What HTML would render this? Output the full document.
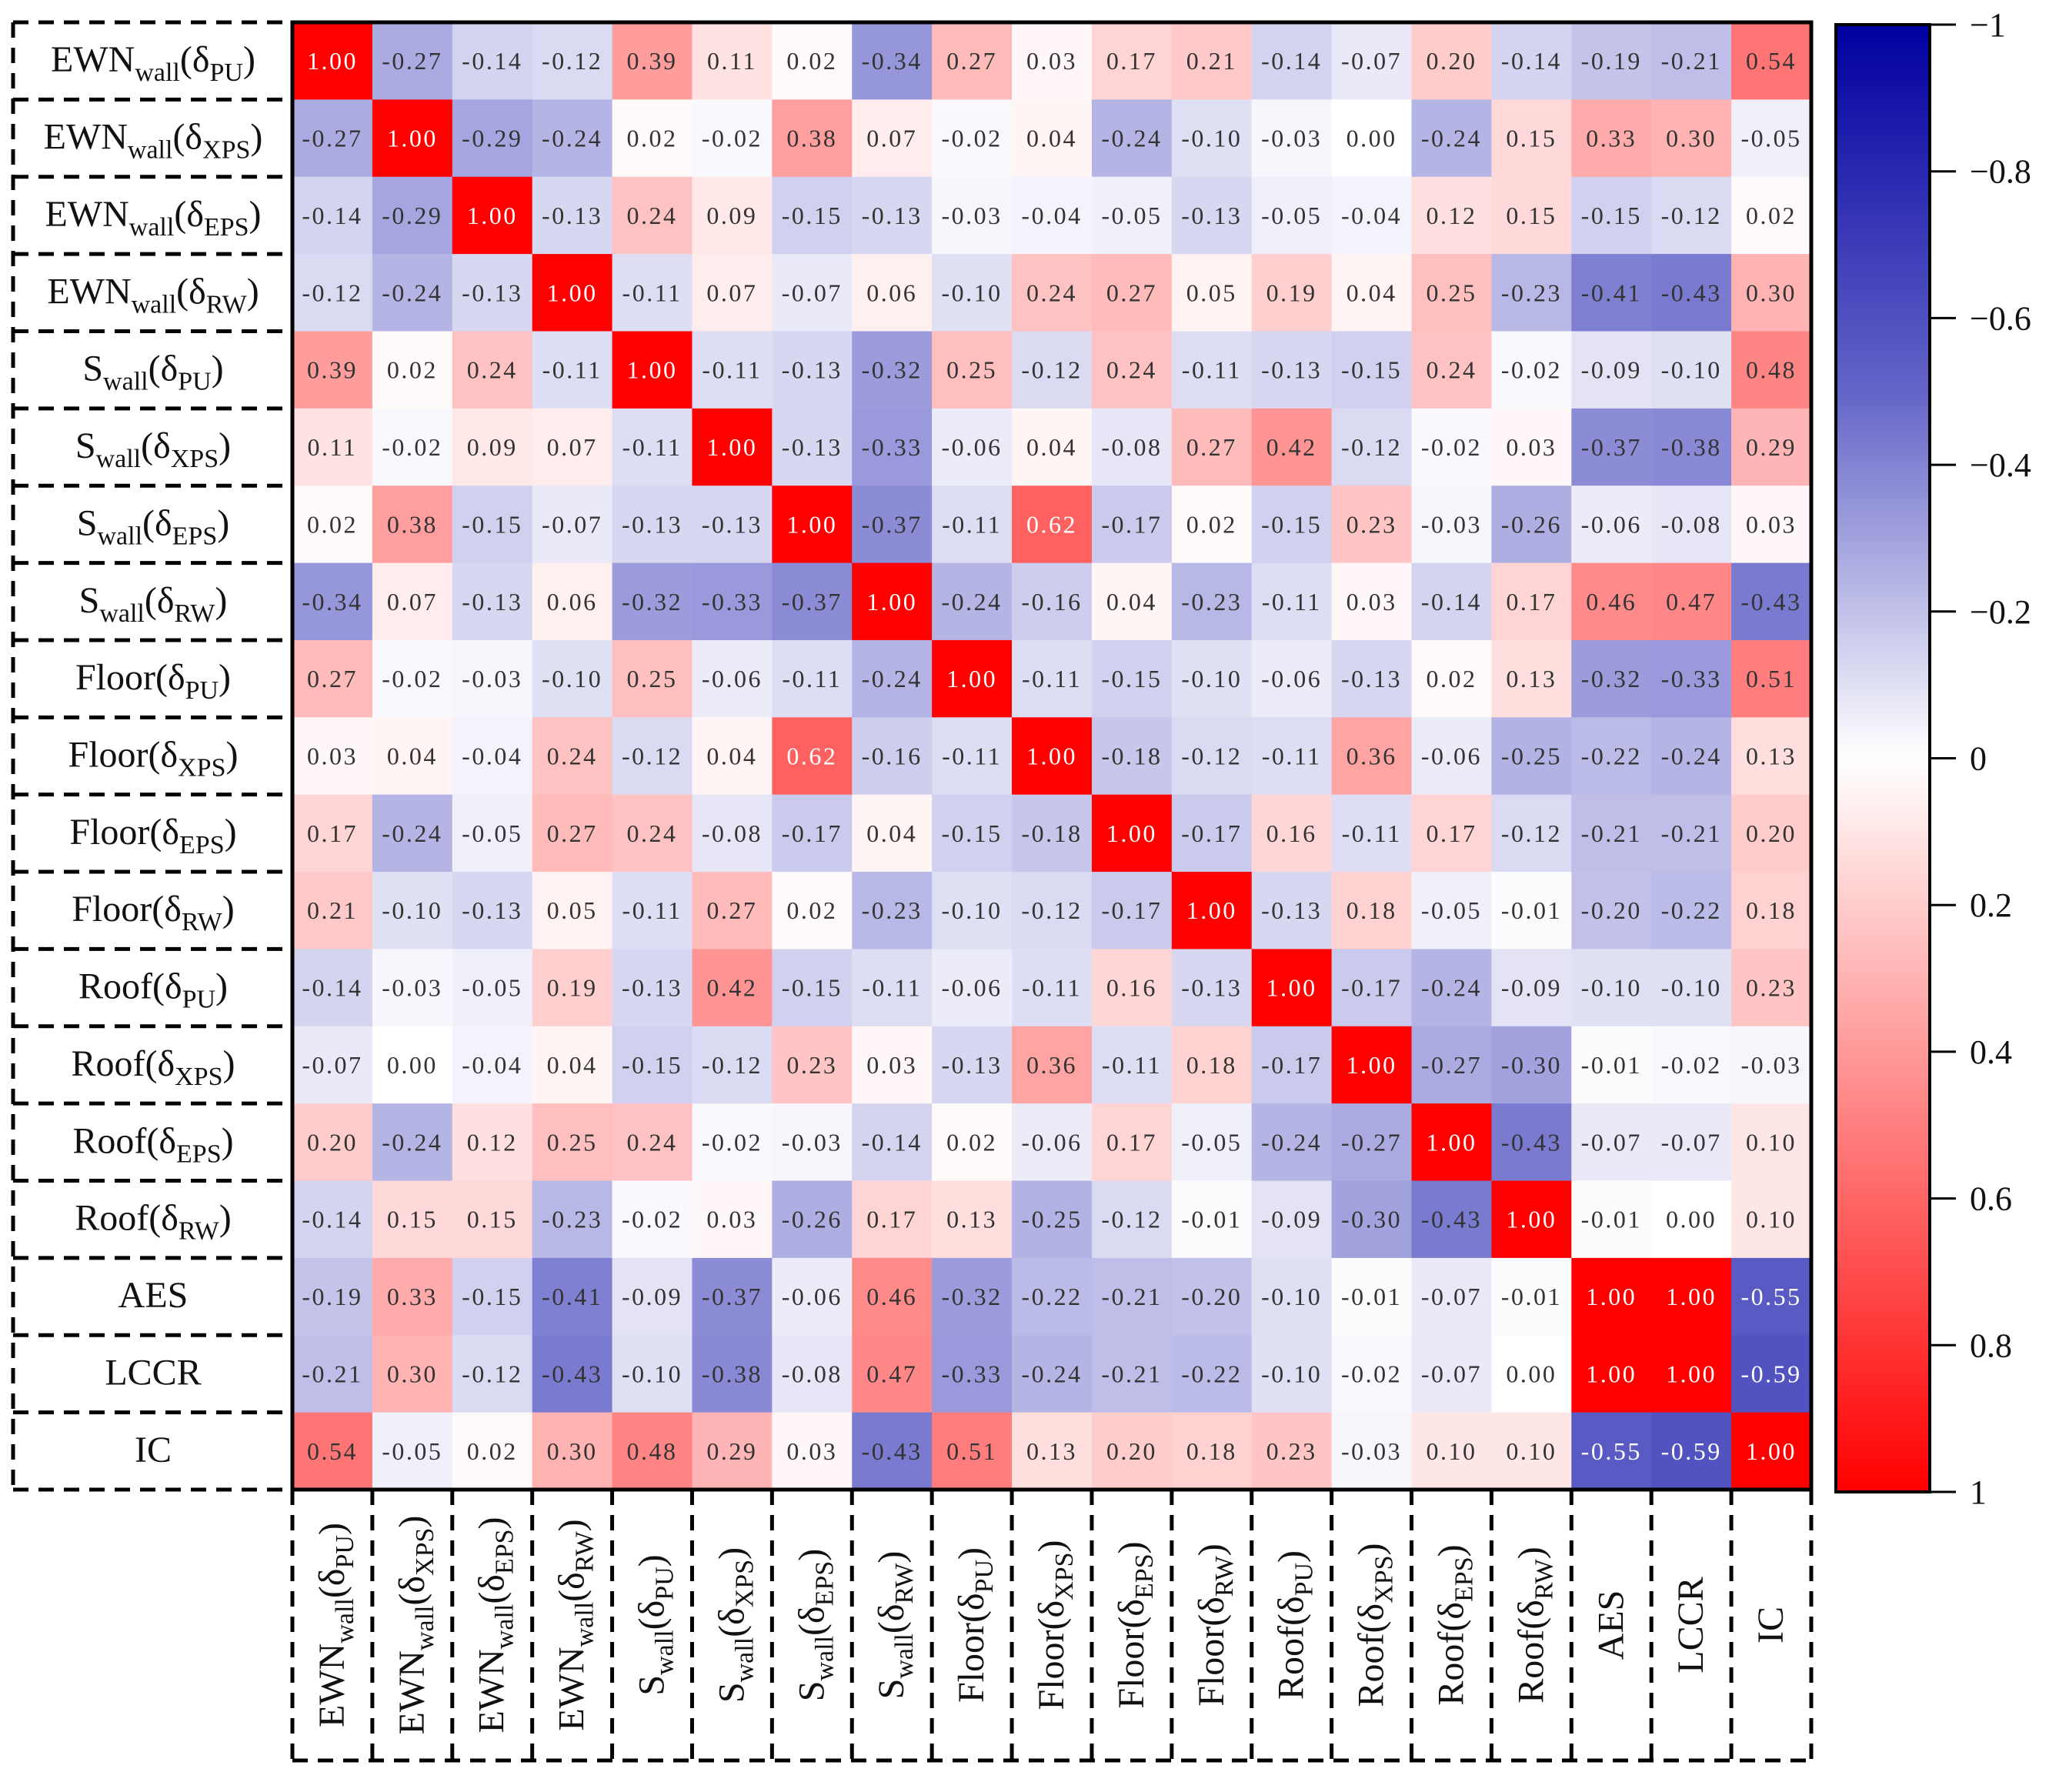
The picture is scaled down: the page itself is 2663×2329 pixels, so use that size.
<!DOCTYPE html>
<html><head><meta charset="utf-8"><style>
html,body{margin:0;padding:0;background:#fff;}
svg{display:block;}
text{font-family:"Liberation Serif",serif;}
.val{font-family:"Liberation Serif",serif;font-size:32px;letter-spacing:2.5px;}
</style></head><body>
<svg id="chart" width="2663" height="2329" viewBox="0 0 2663 2329" xmlns="http://www.w3.org/2000/svg"></svg>
<script>
const labelMain = ["EWN","EWN","EWN","EWN","S","S","S","S","Floor","Floor","Floor","Floor","Roof","Roof","Roof","Roof","AES","LCCR","IC"];
const labelWall = [true,true,true,true,true,true,true,true,false,false,false,false,false,false,false,false,false,false,false];
const labelSub = ["PU","XPS","EPS","RW","PU","XPS","EPS","RW","PU","XPS","EPS","RW","PU","XPS","EPS","RW","","",""];
const matrix = [
[1.00,-0.27,-0.14,-0.12,0.39,0.11,0.02,-0.34,0.27,0.03,0.17,0.21,-0.14,-0.07,0.20,-0.14,-0.19,-0.21,0.54],
[-0.27,1.00,-0.29,-0.24,0.02,-0.02,0.38,0.07,-0.02,0.04,-0.24,-0.10,-0.03,0.00,-0.24,0.15,0.33,0.30,-0.05],
[-0.14,-0.29,1.00,-0.13,0.24,0.09,-0.15,-0.13,-0.03,-0.04,-0.05,-0.13,-0.05,-0.04,0.12,0.15,-0.15,-0.12,0.02],
[-0.12,-0.24,-0.13,1.00,-0.11,0.07,-0.07,0.06,-0.10,0.24,0.27,0.05,0.19,0.04,0.25,-0.23,-0.41,-0.43,0.30],
[0.39,0.02,0.24,-0.11,1.00,-0.11,-0.13,-0.32,0.25,-0.12,0.24,-0.11,-0.13,-0.15,0.24,-0.02,-0.09,-0.10,0.48],
[0.11,-0.02,0.09,0.07,-0.11,1.00,-0.13,-0.33,-0.06,0.04,-0.08,0.27,0.42,-0.12,-0.02,0.03,-0.37,-0.38,0.29],
[0.02,0.38,-0.15,-0.07,-0.13,-0.13,1.00,-0.37,-0.11,0.62,-0.17,0.02,-0.15,0.23,-0.03,-0.26,-0.06,-0.08,0.03],
[-0.34,0.07,-0.13,0.06,-0.32,-0.33,-0.37,1.00,-0.24,-0.16,0.04,-0.23,-0.11,0.03,-0.14,0.17,0.46,0.47,-0.43],
[0.27,-0.02,-0.03,-0.10,0.25,-0.06,-0.11,-0.24,1.00,-0.11,-0.15,-0.10,-0.06,-0.13,0.02,0.13,-0.32,-0.33,0.51],
[0.03,0.04,-0.04,0.24,-0.12,0.04,0.62,-0.16,-0.11,1.00,-0.18,-0.12,-0.11,0.36,-0.06,-0.25,-0.22,-0.24,0.13],
[0.17,-0.24,-0.05,0.27,0.24,-0.08,-0.17,0.04,-0.15,-0.18,1.00,-0.17,0.16,-0.11,0.17,-0.12,-0.21,-0.21,0.20],
[0.21,-0.10,-0.13,0.05,-0.11,0.27,0.02,-0.23,-0.10,-0.12,-0.17,1.00,-0.13,0.18,-0.05,-0.01,-0.20,-0.22,0.18],
[-0.14,-0.03,-0.05,0.19,-0.13,0.42,-0.15,-0.11,-0.06,-0.11,0.16,-0.13,1.00,-0.17,-0.24,-0.09,-0.10,-0.10,0.23],
[-0.07,0.00,-0.04,0.04,-0.15,-0.12,0.23,0.03,-0.13,0.36,-0.11,0.18,-0.17,1.00,-0.27,-0.30,-0.01,-0.02,-0.03],
[0.20,-0.24,0.12,0.25,0.24,-0.02,-0.03,-0.14,0.02,-0.06,0.17,-0.05,-0.24,-0.27,1.00,-0.43,-0.07,-0.07,0.10],
[-0.14,0.15,0.15,-0.23,-0.02,0.03,-0.26,0.17,0.13,-0.25,-0.12,-0.01,-0.09,-0.30,-0.43,1.00,-0.01,0.00,0.10],
[-0.19,0.33,-0.15,-0.41,-0.09,-0.37,-0.06,0.46,-0.32,-0.22,-0.21,-0.20,-0.10,-0.01,-0.07,-0.01,1.00,1.00,-0.55],
[-0.21,0.30,-0.12,-0.43,-0.10,-0.38,-0.08,0.47,-0.33,-0.24,-0.21,-0.22,-0.10,-0.02,-0.07,0.00,1.00,1.00,-0.59],
[0.54,-0.05,0.02,0.30,0.48,0.29,0.03,-0.43,0.51,0.13,0.20,0.18,0.23,-0.03,0.10,0.10,-0.55,-0.59,1.00]
];
const cbTicks = [-1,-0.8,-0.6,-0.4,-0.2,0,0.2,0.4,0.6,0.8,1];
const cbTickLabels = ["\u22121","\u22120.8","\u22120.6","\u22120.4","\u22120.2","0","0.2","0.4","0.6","0.8","1"];

const NS="http://www.w3.org/2000/svg";
const svg=document.getElementById('chart');
const X0=380,Y0=29,X1=2354,Y1=1936;
const n=labelMain.length;
const cw=(X1-X0)/n, ch=(Y1-Y0)/n;
const xPos=i=>X0+i*cw, yPos=i=>Y0+i*ch;
function mk(tag,attrs,parent){const e=document.createElementNS(NS,tag);for(const k in attrs)e.setAttribute(k,attrs[k]);(parent||svg).appendChild(e);return e;}
function color(v){
  if(v>=0){const t=Math.min(v,1);const g=Math.round(255*(1-t));return `rgb(255,${g},${g})`;}
  const t=Math.min(-v,1);
  let r,b;
  if(t<=0.5){const u=t/0.5;r=255-155*u;b=255-55*u;}else{const u=(t-0.5)/0.5;r=100-100*u;b=200-40*u;}
  r=Math.round(r);return `rgb(${r},${r},${Math.round(b)})`;
}
function fmt(v){return (v<0?"-":"")+Math.abs(v).toFixed(2);}
const gCells=mk('g',{});


for(let r=0;r<n;r++)for(let c=0;c<n;c++){
  const v=matrix[r][c];
  const rect=mk('rect',{x:xPos(c),y:yPos(r),width:cw+0.6,height:ch+0.6,fill:color(v)},gCells);
  
  
  const t=mk('text',{x:xPos(c)+cw/2,y:yPos(r)+ch/2+11,'text-anchor':'middle',class:'val',fill:Math.abs(v)>=0.55?'#fff':'#333'},gCells);
  t.textContent=fmt(v);
  
  
}
const frame=mk('rect',{x:X0,y:Y0,width:X1-X0,height:Y1-Y0,fill:'none',stroke:'#000','stroke-width':5});



function addLabel(parent,i){
  const t=mk('text',{'font-size':48,fill:'#111'},parent);
  const a=mk('tspan',{},t);a.textContent=labelMain[i];
  if(labelWall[i]){const w=mk('tspan',{'font-size':34,dy:12},t);w.textContent='wall';}
  if(labelSub[i]){
    const p=mk('tspan',{'font-size':48,dy:labelWall[i]?-12:0},t);p.textContent='(\u03B4';
    const s=mk('tspan',{'font-size':34,dy:12},t);s.textContent=labelSub[i];
    const q=mk('tspan',{'font-size':48,dy:-12},t);q.textContent=')';
  }
  return t;
}
const gRows=mk('g',{});


const dash={stroke:'#000','stroke-width':5,'stroke-dasharray':'20 13',fill:'none'};
mk('line',Object.assign({x1:17,y1:Y0,x2:17,y2:Y1},dash),gRows);
for(let i=0;i<=n;i++){mk('line',Object.assign({x1:17,y1:yPos(i),x2:X0,y2:yPos(i)},dash),gRows);}
for(let i=0;i<n;i++){
  const t=addLabel(gRows,i);
  t.setAttribute('x',199);t.setAttribute('y',yPos(i)+ch/2+14);t.setAttribute('text-anchor','middle');
  
  
}
const gCols=mk('g',{});


const CB=2288;
mk('line',Object.assign({x1:X0,y1:CB,x2:X1,y2:CB},dash),gCols);
for(let i=0;i<=n;i++){mk('line',Object.assign({x1:xPos(i),y1:Y1,x2:xPos(i),y2:CB},dash),gCols);}
for(let i=0;i<n;i++){
  const cx=xPos(i)+cw/2+15, cy=(Y1+CB)/2;
  const t=addLabel(gCols,i);
  t.setAttribute('x',0);t.setAttribute('y',0);t.setAttribute('text-anchor','middle');
  t.setAttribute('transform',`translate(${cx},${cy}) rotate(-90)`);
  
  
}
const defs=mk('defs',{});
const lg=mk('linearGradient',{id:'cbg',x1:0,y1:0,x2:0,y2:1},defs);
[[0,-1],[0.25,-0.5],[0.5,0],[1,1]].forEach(([o,v])=>mk('stop',{offset:o,'stop-color':color(v)},lg));
const CBX0=2386,CBX1=2508,CBY0=32,CBY1=1939;
const cbY=v=>CBY0+(v+1)/2*(CBY1-CBY0);
const gCb=mk('g',{});


mk('rect',{x:CBX0,y:CBY0,width:CBX1-CBX0,height:CBY1-CBY0,fill:'url(#cbg)',stroke:'#000','stroke-width':4},gCb);
cbTicks.forEach((v,i)=>{
  mk('line',{x1:CBX1,y1:cbY(v),x2:2542,y2:cbY(v),stroke:'#000','stroke-width':3},gCb);
  const t=mk('text',{x:2560,y:cbY(v)+15,'font-size':44,fill:'#111'},gCb);
  t.textContent=cbTickLabels[i];
  
  
});
</script>
</body></html>
